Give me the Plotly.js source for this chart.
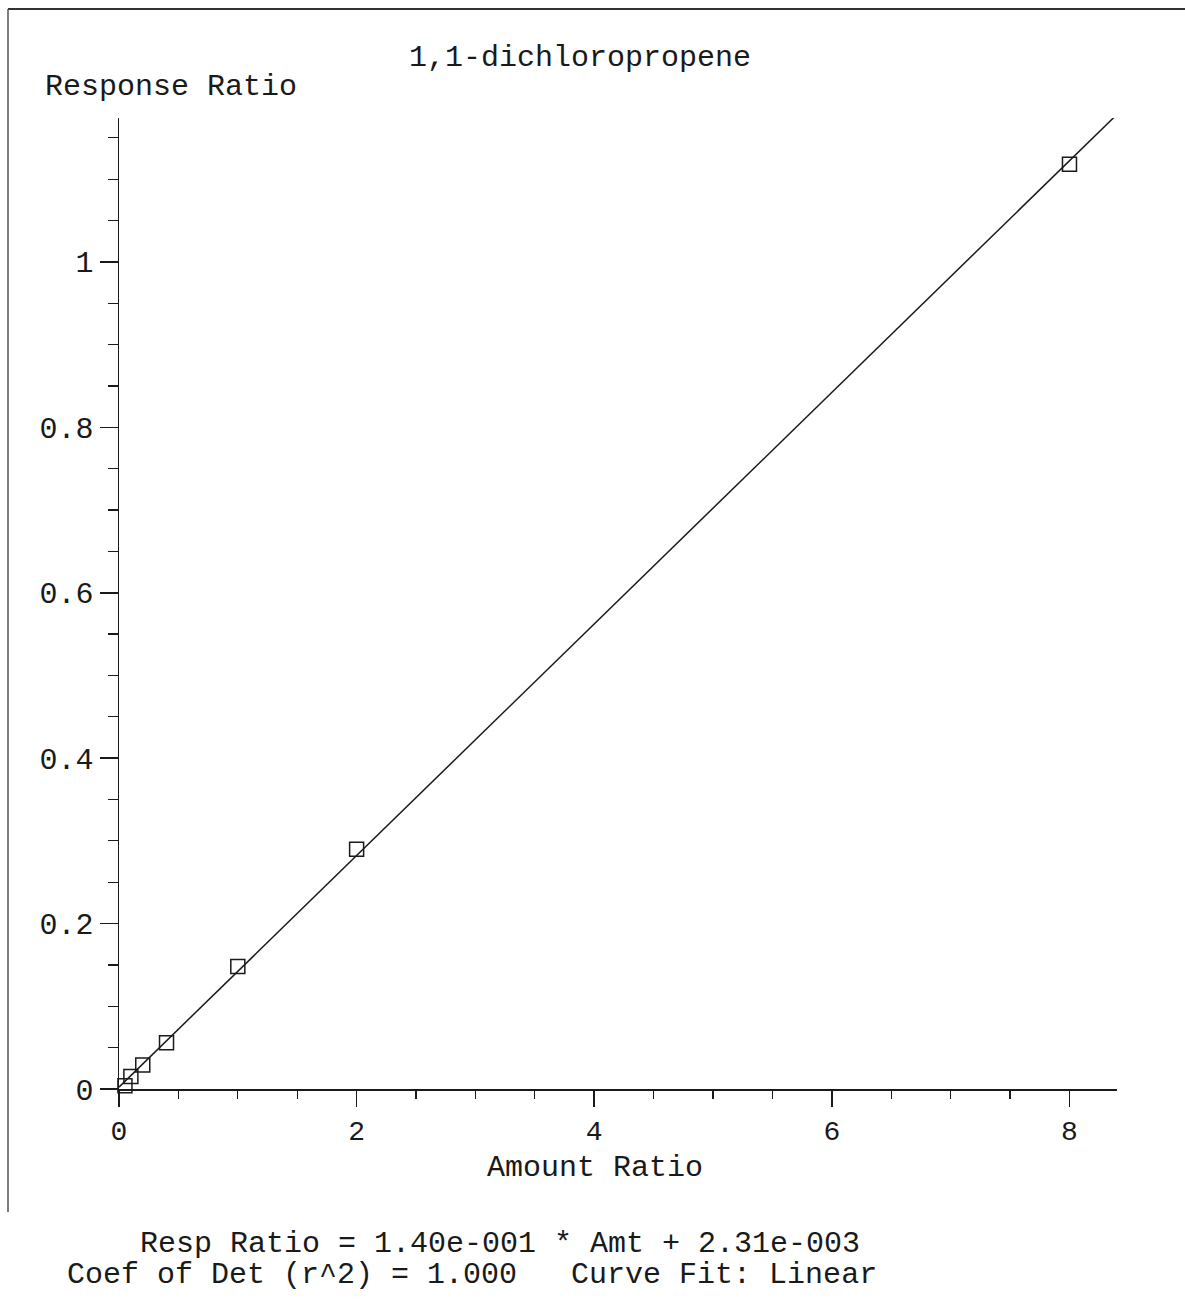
<!DOCTYPE html>
<html>
<head>
<meta charset="utf-8">
<script src="https://cdn.plot.ly/plotly-3.0.1.min.js"></script>
<style>html,body{margin:0;padding:0;background:#fff;}#chart{width:1185px;height:1302px;}</style>
</head>
<body>
<div id="chart"></div>
<script>
// Calibration points (Amount Ratio vs Response Ratio)
const amountRatio = [0.05, 0.1, 0.2, 0.4, 1.0, 2.0, 8.0];
const responseRatio = [0.004, 0.015, 0.029, 0.056, 0.148, 0.290, 1.118];
// Linear fit line endpoints (Resp Ratio = 1.40e-001 * Amt + 2.31e-003)
const fitAmount = [0, 8.4];
const fitResponse = [0.0023, 1.1783];
// Texts
const chartTitle = "1,1-dichloropropene";
const xTitle = "Amount Ratio";
const yTitle = "Response Ratio";
const eqLine1 = "Resp Ratio = 1.40e-001 * Amt + 2.31e-003";
const eqLine2 = "Coef of Det (r^2) = 1.000\u00a0\u00a0\u00a0Curve Fit: Linear";

const FONT = "Liberation Mono, Courier New, monospace";
const INK = "#1a1a1a";

const traces = [
  {
    x: fitAmount, y: fitResponse, type: "scatter", mode: "lines",
    line: {color: INK, width: 1.5}, hoverinfo: "skip", showlegend: false, cliponaxis: true
  },
  {
    x: amountRatio, y: responseRatio, type: "scatter", mode: "markers",
    marker: {symbol: "square-open", size: 14, color: INK, line: {width: 1.5, color: INK}},
    showlegend: false, cliponaxis: false
  }
];

const layout = {
  width: 1185, height: 1302,
  paper_bgcolor: "#fff", plot_bgcolor: "#fff",
  margin: {l: 119, r: 68, t: 118, b: 213},
  font: {family: FONT, size: 30, color: INK},
  showlegend: false,
  title: {
    text: chartTitle, font: {family: FONT, size: 30, color: INK},
    x: 580 / 1185, xanchor: "center", xref: "container",
    y: 1 - 55 / 1302, yanchor: "middle", yref: "container"
  },
  xaxis: {
    range: [0, 8.4], showgrid: false, zeroline: false,
    showline: true, linecolor: INK, linewidth: 1.5,
    ticks: "outside", tickmode: "linear", tick0: 0, dtick: 2,
    ticklen: 16, tickwidth: 1.5, tickcolor: INK,
    tickfont: {family: FONT, size: 28, color: INK},
    minor: {ticks: "outside", dtick: 0.5, tick0: 0, ticklen: 8, tickwidth: 1.2, tickcolor: INK, showgrid: false},
    title: {text: ""}
  },
  yaxis: {
    range: [0, 1.174], showgrid: false, zeroline: false,
    showline: true, linecolor: INK, linewidth: 1.5,
    ticks: "outside", tickmode: "linear", tick0: 0, dtick: 0.2,
    ticklen: 18, tickwidth: 1.5, tickcolor: INK,
    tickfont: {family: FONT, size: 30, color: INK},
    minor: {ticks: "outside", dtick: 0.05, tick0: 0, ticklen: 10, tickwidth: 1.2, tickcolor: INK, showgrid: false},
    title: {text: ""}
  },
  annotations: [
    {text: yTitle, xref: "paper", yref: "paper", x: (43 - 119) / 998, y: (1089 - 87) / 971,
     xanchor: "left", yanchor: "middle", showarrow: false, font: {family: FONT, size: 30, color: INK}},
    {text: xTitle, xref: "paper", yref: "paper", x: (595 - 119) / 998, y: (1089 - 1168) / 971,
     xanchor: "center", yanchor: "middle", showarrow: false, font: {family: FONT, size: 30, color: INK}},
    {text: eqLine1, xref: "paper", yref: "paper", x: (138 - 119) / 998, y: (1089 - 1244) / 971,
     xanchor: "left", yanchor: "middle", showarrow: false, font: {family: FONT, size: 30, color: INK}},
    {text: eqLine2, xref: "paper", yref: "paper", x: (65 - 119) / 998, y: (1089 - 1275) / 971,
     xanchor: "left", yanchor: "middle", showarrow: false, font: {family: FONT, size: 30, color: INK}}
  ],
  shapes: [
    {type: "line", xref: "paper", yref: "paper", x0: (8 - 119) / 998, x1: (1185 - 119) / 998,
     y0: (1089 - 9) / 971, y1: (1089 - 9) / 971, line: {color: "#333", width: 2}},
    {type: "line", xref: "paper", yref: "paper", x0: (8 - 119) / 998, x1: (8 - 119) / 998,
     y0: (1089 - 9) / 971, y1: (1089 - 1212) / 971, line: {color: "#555", width: 1.5}}
  ]
};

Plotly.newPlot("chart", traces, layout, {staticPlot: true, displayModeBar: false});
</script>
</body>
</html>
